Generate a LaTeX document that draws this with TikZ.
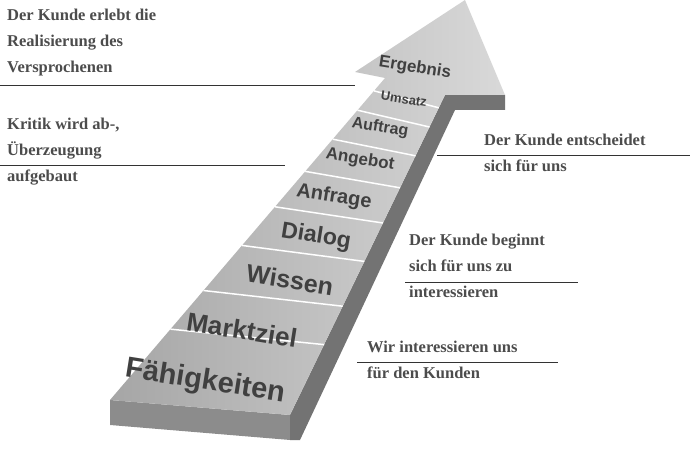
\documentclass[tikz,border=0pt]{standalone}
\usepackage{fontspec}
\setmainfont{Liberation Serif}
\setsansfont{Liberation Sans}
\usetikzlibrary{calc}
\begin{document}
\begin{tikzpicture}[x=1pt,y=-1pt,
  stufe/.style={text=black!75, rotate=-9, inner sep=0pt},
  note/.style={font=\bfseries\fontsize{16.5}{26}\selectfont, text=black!70, align=left, anchor=north west, inner sep=0pt},
  rule/.style={black!80, line width=0.6pt},
  sep/.style={white, line width=1.5pt}]
\useasboundingbox (0,0) rectangle (697,465);
\coordinate (L0) at (110,400); \coordinate (L1) at (385,78);
\coordinate (R0) at (290,415); \coordinate (R1) at (445,95);
\coordinate (BL) at (355,72); \coordinate (T) at (465,0); \coordinate (BR) at (505,95);
% faces
\fill[black!45] (L0) -- (R0) -- (290,440) -- (110,425) -- cycle;
\fill[black!55] (R0) -- (R1) -- (BR) -- (505,110) -- (455,110) -- (300,440) -- (290,440) -- cycle;
\shade[left color=black!35, right color=black!15] (L0) -- (L1) -- (BL) -- (T) -- (BR) -- (R1) -- (R0) -- cycle;
% separators
\foreach \t in {0.22,0.34,0.48,0.6,0.71,0.81,0.9,0.96}
  \draw[sep] ($(L0)!\t!(L1)$) -- ($(R0)!\t!(R1)$);
% labels
\node[stufe, font=\sffamily\bfseries\fontsize{29}{30}\selectfont] (s1) at (205,382) {Fähigkeiten};
\node[stufe, font=\sffamily\bfseries\fontsize{26}{28}\selectfont] (s2) at (242,330) {Marktziel};
\node[stufe, font=\sffamily\bfseries\fontsize{25}{27}\selectfont] (s3) at (290,280) {Wissen};
\node[stufe, font=\sffamily\bfseries\fontsize{23}{25}\selectfont] (s4) at (316,237) {Dialog};
\node[stufe, font=\sffamily\bfseries\fontsize{20}{22}\selectfont] (s5) at (334,197) {Anfrage};
\node[stufe, font=\sffamily\bfseries\fontsize{17}{19}\selectfont] (s6) at (360,160) {Angebot};
\node[stufe, font=\sffamily\bfseries\fontsize{16}{18}\selectfont] (s7) at (380,128) {Auftrag};
\node[stufe, font=\sffamily\bfseries\fontsize{13}{15}\selectfont] (s8) at (404,99) {Umsatz};
\node[stufe, font=\sffamily\bfseries\fontsize{17}{19}\selectfont] (s9) at (415,68) {Ergebnis};
% notes
\node[note] (n1) at (7,9) {Der Kunde erlebt die\\Realisierung des\\Versprochenen};
\coordinate (a1) at (0,85); \coordinate (b1) at (355,85); \draw[rule] (a1) -- (b1);
\node[note] (n2) at (7,118) {Kritik wird ab-,\\Überzeugung\\aufgebaut};
\coordinate (a2) at (0,165); \coordinate (b2) at (285,165); \draw[rule] (a2) -- (b2);
\node[note] (n3) at (484,134) {Der Kunde entscheidet\\sich für uns};
\coordinate (a3) at (437,155); \coordinate (b3) at (690,155); \draw[rule] (a3) -- (b3);
\node[note] (n4) at (409,234) {Der Kunde beginnt\\sich für uns zu\\interessieren};
\coordinate (a4) at (405,282); \coordinate (b4) at (578,282); \draw[rule] (a4) -- (b4);
\node[note] (n5) at (367,341) {Wir interessieren uns\\für den Kunden};
\coordinate (a5) at (357,362); \coordinate (b5) at (558,362); \draw[rule] (a5) -- (b5);
\end{tikzpicture}
\end{document}
